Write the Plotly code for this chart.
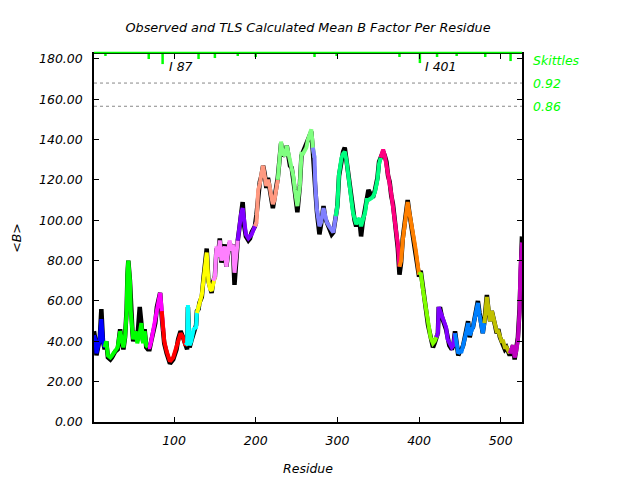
import plotly.graph_objects as go

# ---------------- data ----------------
residue = [2, 4, 5, 7, 9, 11, 13, 15, 17,
           19, 22, 24, 28, 31, 34, 36, 38, 40, 42, 43, 44, 46, 47, 49, 50, 53, 55, 58, 60, 62, 64, 66, 68,
           70, 72, 75, 77, 79, 81, 83, 85, 87,
           88, 91, 95, 99, 103, 105, 108, 111, 114, 116,
           117, 119, 121, 124, 127, 128, 130,
           131, 134, 136, 138, 140, 142, 144, 146, 148, 150,
           152, 154, 156, 158, 160, 162, 164, 166, 168, 170, 172, 174, 176, 178,
           180, 182, 184, 186, 188, 191, 193, 195, 199, 201,
           203, 205, 207, 209, 211, 213, 215, 217, 219, 221, 223, 225, 227,
           229, 231, 233, 236, 238, 240, 242, 244, 246, 248, 251, 254, 256, 258, 260, 262, 264, 266, 268, 270, 272,
           273, 275, 278, 280, 283, 285, 287, 290, 293, 295, 298, 300,
           302, 305, 307, 309, 311, 313, 316, 319, 321, 323, 325, 327, 329, 331, 334, 336, 338, 342, 344, 346, 349, 351, 353,
           356, 358, 360, 362, 364, 366, 368, 370, 372, 374, 376,
           378, 380, 382, 384, 386, 388, 390, 392, 394, 396, 398, 400,
           402, 405, 408, 411, 414, 417, 419, 421, 423,
           424, 426, 428, 431, 433, 435, 437, 440, 442, 444,
           446, 448, 450, 452, 454, 456, 458, 460, 462, 464, 466, 468, 470, 472, 474, 476, 478, 480,
           483, 485, 487, 489, 491, 493, 495, 497, 499, 501, 503, 505, 507, 509, 511,
           513, 515, 517, 519, 521, 523, 524, 526]

tls_b = [43, 40, 34, 38, 41, 51, 40, 37, 40,
         33, 32, 33, 35, 37, 45, 40, 37, 42, 55, 74, 80, 70, 55, 45, 41, 45, 39, 44, 49, 39, 45, 38, 37,
         37, 40, 47, 49, 55, 60, 64, 55, 45,
         40, 35, 30, 32, 37, 41, 44, 42, 38, 39,
         58, 38, 40, 46, 47, 54, 57,
         60, 63, 70, 80, 84, 70, 66, 65, 70, 72,
         87, 82, 90, 80, 84, 87, 77, 85, 90, 85, 88, 74, 83, 90,
         97, 103, 106, 97, 93, 91, 92, 93, 97, 99,
         115, 118, 123, 127, 122, 117, 120, 117, 112, 108, 110, 116, 120,
         133, 139, 133, 132, 137, 133, 128, 125, 122, 115, 107, 117, 133, 133, 135, 136, 140, 142, 145, 136, 131,
         117, 105, 97, 99, 106, 102, 99, 97, 95, 94, 102, 107,
         123, 131, 133, 134, 130, 123, 112, 104, 101, 98, 100, 101, 97, 100, 104, 110, 110, 111, 112, 114, 120, 128, 131,
         135, 132, 128, 123, 118, 113, 107, 102, 95, 88, 77,
         80, 90, 96, 105, 109, 104, 100, 94, 90, 85, 78, 73,
         74, 65, 57, 49, 42, 39, 40, 42, 44,
         57, 55, 53, 49, 47, 41, 39, 37, 38, 44,
         38, 34, 35, 35, 38, 41, 45, 49, 43, 45, 47, 51, 56, 59, 53, 48, 44, 49,
         62, 56, 50, 55, 51, 47, 45, 45, 43, 40, 40, 37, 37, 35, 34,
         36, 38, 32, 35, 41, 55, 75, 89]

observed_b = [45, 40, 33, 38, 41, 56, 40, 36, 40,
              32, 31, 32, 35, 36, 46, 40, 36, 42, 56, 73, 80, 70, 56, 45, 40, 45, 41, 57, 49, 40, 46, 37, 36,
              36, 40, 46, 49, 57, 60, 64, 52, 40,
              39, 34, 29, 31, 36, 41, 45, 42, 37, 36,
              57, 37, 40, 45, 48, 55, 56,
              59, 62, 71, 79, 86, 70, 66, 64, 70, 72,
              86, 83, 91, 79, 84, 88, 77, 85, 89, 86, 88, 68, 82, 90,
              96, 104, 109, 97, 92, 90, 91, 94, 97, 103,
              113, 119, 122, 127, 123, 116, 121, 117, 111, 106, 110, 116, 121,
              132, 138, 132, 133, 137, 133, 127, 126, 121, 114, 104, 117, 132, 134, 135, 137, 140, 142, 144, 134, 125,
              115, 104, 93, 98, 107, 101, 99, 96, 93, 94, 103, 107,
              122, 130, 134, 136, 130, 123, 111, 103, 100, 97, 100, 100, 92, 99, 105, 111, 115, 112, 112, 115, 121, 129, 131,
              134, 132, 129, 122, 119, 112, 108, 101, 94, 86, 73,
              79, 91, 97, 104, 110, 104, 99, 95, 89, 85, 77, 72,
              75, 64, 57, 48, 42, 37, 39, 42, 44,
              56, 56, 52, 49, 46, 42, 38, 36, 38, 45,
              37, 33, 35, 36, 38, 42, 46, 50, 42, 46, 47, 52, 57, 60, 54, 47, 44, 50,
              63, 55, 50, 55, 50, 48, 44, 46, 42, 40, 39, 36, 37, 34, 33,
              35, 38, 31, 36, 42, 56, 76, 92]

group_start = [2, 17, 69, 87, 116, 130, 150, 179, 201, 228, 272, 300, 355, 377, 401, 423, 445, 481, 512]
group_color = ["#0000ff", "#00ff00", "#ff00ff", "#ff0000", "#00ffff", "#ffff00", "#ff80ff",
               "#8000ff", "#ff9980", "#80ff80", "#8080ff", "#00ff80", "#ff0080", "#ff8000",
               "#80ff00", "#8000ff", "#0080ff", "#c0c000", "#c000c0"]

# green "skittles" markers hanging from the top
skittle_res = [16, 69, 86, 130, 150, 178, 200, 272, 299, 376, 401, 422, 446, 481, 512]
skittle_len = [1.0, 2.5, 5.0, 2.5, 2.0, 1.0, 1.5, 1.5, 1.0, 1.5, 4.5, 1.5, 1.0, 1.5, 3.5]
skittle_labels = [(87, "I 87"), (401, "I 401")]
cutoff_values = [168.0, 156.5]
cutoff_labels = ["0.92", "0.86"]

x_ticks = [100, 200, 300, 400, 500]
y_ticks = [0, 20, 40, 60, 80, 100, 120, 140, 160, 180]
x_range = [2, 526]
y_range = [0, 182.4]

# ---------------- figure ----------------
fig = go.Figure()

fig.add_trace(go.Scatter(x=residue, y=observed_b, mode="lines",
                         line=dict(color="black", width=4.5), showlegend=False, hoverinfo="skip"))

ends = group_start[1:] + [10**6]
for start, end, color in zip(group_start, ends, group_color):
    idx = [i for i, r in enumerate(residue) if start <= r <= end]
    prev = [i for i, r in enumerate(residue) if r < start]
    if prev:
        idx = [prev[-1]] + idx
    fig.add_trace(go.Scatter(x=[residue[i] for i in idx], y=[tls_b[i] for i in idx],
                             mode="lines", line=dict(color=color, width=4),
                             showlegend=False, hoverinfo="skip"))

# skittle ticks
sx, sy = [], []
for r, ln in zip(skittle_res, skittle_len):
    sx += [r, r, None]
    sy += [y_range[1], y_range[1] - ln, None]
fig.add_trace(go.Scatter(x=sx, y=sy, mode="lines", line=dict(color="#00ff00", width=2.5),
                         showlegend=False, hoverinfo="skip", cliponaxis=False))

shapes = []
for v in cutoff_values:
    shapes.append(dict(type="line", xref="paper", x0=0, x1=1, yref="y", y0=v, y1=v,
                       line=dict(color="#888888", width=1, dash="dot")))
shapes.append(dict(type="line", xref="paper", x0=0, x1=1, yref="paper", y0=1.004, y1=1.004,
                   line=dict(color="#00ff00", width=1.5)))

ann = []
for r, t in skittle_labels:
    ann.append(dict(x=r + 4, y=y_range[1] - 1.5, xref="x", yref="y", text=t, showarrow=False,
                    xanchor="left", yanchor="top", font=dict(size=12.5, color="black")))
ann.append(dict(x=1.02, y=179, xref="paper", yref="y", text="Skittles", showarrow=False,
                xanchor="left", yanchor="middle", font=dict(size=12.5, color="#00ff00")))
for v, t in zip(cutoff_values, cutoff_labels):
    ann.append(dict(x=1.02, y=v, xref="paper", yref="y", text=t, showarrow=False,
                    xanchor="left", yanchor="middle", font=dict(size=12.5, color="#00ff00")))

fig.update_layout(
    width=640, height=480,
    margin=dict(l=94, r=118, t=54, b=58, autoexpand=False),
    paper_bgcolor="white", plot_bgcolor="white",
    font=dict(family="DejaVu Sans", size=12.5, color="black", style="italic"),
    title=dict(text="Observed and TLS Calculated Mean B Factor Per Residue",
               x=0.5, xref="paper", xanchor="center", y=0.943, yanchor="middle",
               font=dict(size=12.8, style="italic")),
    shapes=shapes, annotations=ann,
)
fig.update_xaxes(range=x_range, tickvals=x_ticks, ticks="inside", ticklen=5, tickcolor="black",
                 showline=True, linecolor="black", linewidth=1.5, mirror="ticks",
                 showgrid=False, zeroline=False, ticklabelstandoff=6, automargin=False,
                 title=dict(text="Residue", standoff=17, font=dict(size=12.5, style="italic")),
                 tickfont=dict(size=12.5))
fig.update_yaxes(range=y_range, tickvals=y_ticks, tickformat=".2f", ticks="inside", ticklen=5,
                 tickcolor="black", showline=True, linecolor="black", linewidth=1.5, mirror="ticks",
                 showgrid=False, zeroline=False, ticklabelstandoff=7, automargin=False,
                 title=dict(text="&lt;B&gt;", standoff=15, font=dict(size=12.5, style="italic")),
                 tickfont=dict(size=12.5))

fig.write_html("out.html", config={"displayModeBar": False},
               post_script="document.body.style.margin='0';")
